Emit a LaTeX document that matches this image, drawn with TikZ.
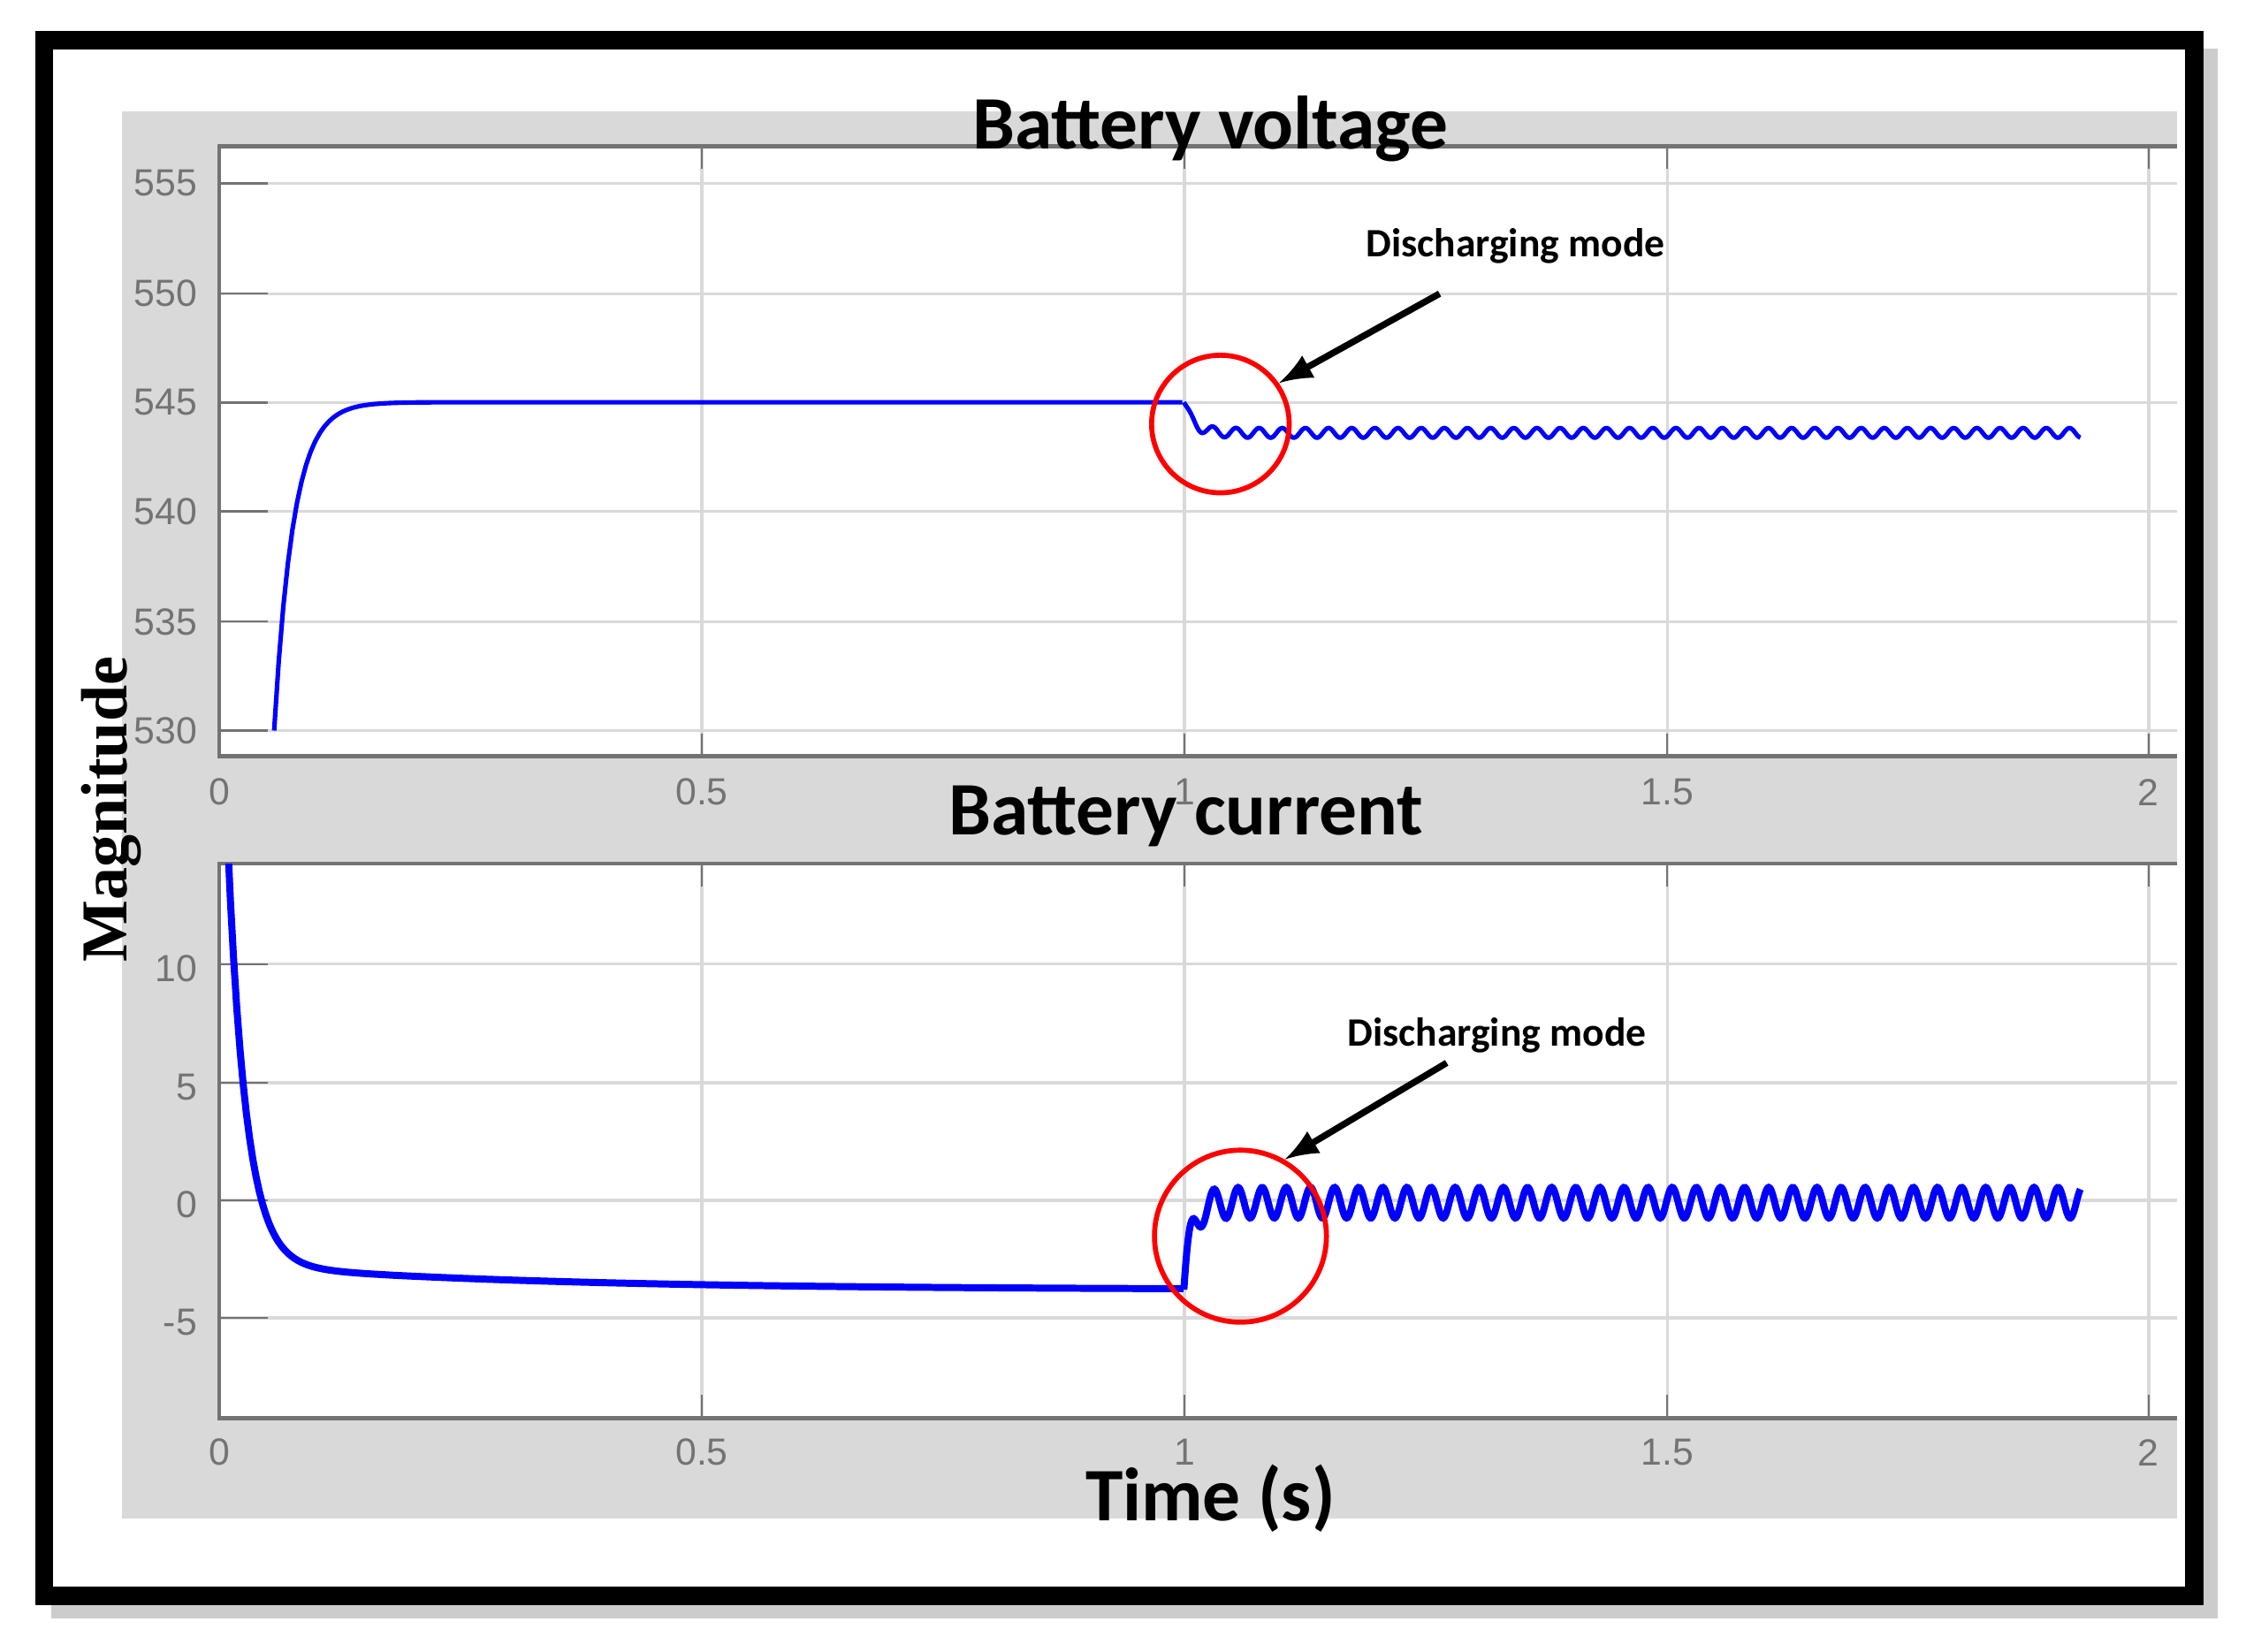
\documentclass[tikz,border=0pt]{standalone}
\usepackage{fontspec}
\setmainfont{Liberation Sans}
\newfontfamily\calfont{Carlito}
\newfontfamily\tmsfont{Liberation Serif}
\begin{document}
\begin{tikzpicture}[x=0.01cm,y=-0.01cm,
  tick/.style={font=\fontsize{7.5}{8}\selectfont, text=black!55},
  grid/.style={draw=black!15, line width=0.6pt},
  ttl/.style={font=\calfont\bfseries\fontsize{15}{16}\selectfont},
  ann/.style={font=\calfont\bfseries\fontsize{8}{9}\selectfont},
  arr/.style={-latex, line width=1.3pt},
  ring/.style={draw=red, line width=1pt},
  sig/.style={blue, line width=0.9pt}]
\useasboundingbox (0,0) rectangle (1568,1153);
\fill[black!20] (36,34) rectangle (1548,1130);
\fill[white] (31,28) rectangle (1532,1114);
\draw[line width=3.6pt] (31,28) rectangle (1532,1114);
\fill[black!15] (85,78) rectangle (1520,1060);
% top axes
\fill[white] (153,102) rectangle (1520,528);
\foreach \y in {128,205,281,357,434,510} \draw[grid] (153,\y) -- (1520,\y);
\foreach \x in {490,827,1164,1500} \draw[grid] (\x,102) -- (\x,528);
\draw[black!55, line width=0.8pt] (1520,102) -- (153,102) -- (153,528) -- (1520,528);
\foreach \y/\l in {128/555,205/550,281/545,357/540,434/535,510/530}{
  \draw[black!55] (153,\y) -- (187,\y); \node[tick,anchor=east] at (150,\y) {\l};}
\foreach \x/\l in {153/0,490/0.5,827/1,1164/1.5,1500/2}{
  \draw[black!55] (\x,528) -- (\x,512); \draw[black!55] (\x,102) -- (\x,118);
  \node[tick] at (\x,553) {\l};}
% bottom axes
\fill[white] (153,603) rectangle (1520,990);
\foreach \y in {673,756,838,920} \draw[grid] (153,\y) -- (1520,\y);
\foreach \x in {490,827,1164,1500} \draw[grid] (\x,603) -- (\x,990);
\draw[black!55, line width=0.8pt] (1520,603) -- (153,603) -- (153,990) -- (1520,990);
\foreach \y/\l in {673/10,756/5,838/0,920/-5}{
  \draw[black!55] (153,\y) -- (187,\y); \node[tick,anchor=east] at (150,\y+3) {\l};}
\foreach \x/\l in {153/0,490/0.5,827/1,1164/1.5,1500/2}{
  \draw[black!55] (\x,990) -- (\x,974); \draw[black!55] (\x,603) -- (\x,619);
  \node[tick] at (\x,1014) {\l};}
% titles
\node[ttl] (t1) at (845,90) {Battery voltage};
\node[ttl] (t2) at (828,570) {Battery current};
\node[ttl] (t3) at (845,1046) {Time (s)};
\node[font=\tmsfont\bfseries\fontsize{13}{14}\selectfont, rotate=90] (mag) at (78,565) {Magnitude};
% voltage signal
\begin{scope}
\clip (153,102) rectangle (1520,528);
\draw[sig] plot[domain=0.057:1, samples=200, variable=\t]
  ({153+673.5*\t},{128+(555-(545-15*exp(-(\t-0.057)/0.02)))*15.28});
\draw[sig] plot[domain=1:1.93, samples=900, variable=\t]
  ({153+673.5*\t},{128+(555-(543.6+1.4*exp(-(\t-1)/0.01)+0.22*sin(360*(\t-1)/0.024)))*15.28});
\end{scope}
% current signal
\begin{scope}
\clip (153,603) rectangle (1520,990);
\draw[sig, line width=1.4pt] plot[domain=0.005:1, samples=300, variable=\t]
  ({153+673.5*\t},{838-(-3-0.8*(1-exp(-(\t-0.1)/0.3))+22*exp(-(\t-0.005)/0.019))*16.4});
\draw[sig, line width=1.4pt] plot[domain=1:1.93, samples=900, variable=\t]
  ({153+673.5*\t},{838-(-0.1-3.7*exp(-(\t-1)/0.008)+0.65*sin(360*(\t-1)/0.025))*16.4});
\end{scope}
% annotations
\node[ann] (a1) at (1058,172) {Discharging mode};
\coordinate (s1) at (1005,205);
\node[ring, circle, inner sep=0pt, minimum size=0.96cm] (c1) at (852,296) {};
\draw[arr] (s1) -- (c1.35);
\node[ann] (a2) at (1045,723) {Discharging mode};
\coordinate (s2) at (1010,742);
\node[ring, circle, inner sep=0pt, minimum size=1.2cm] (c2) at (866,863) {};
\draw[arr] (s2) -- (c2.60);
\end{tikzpicture}
\end{document}
